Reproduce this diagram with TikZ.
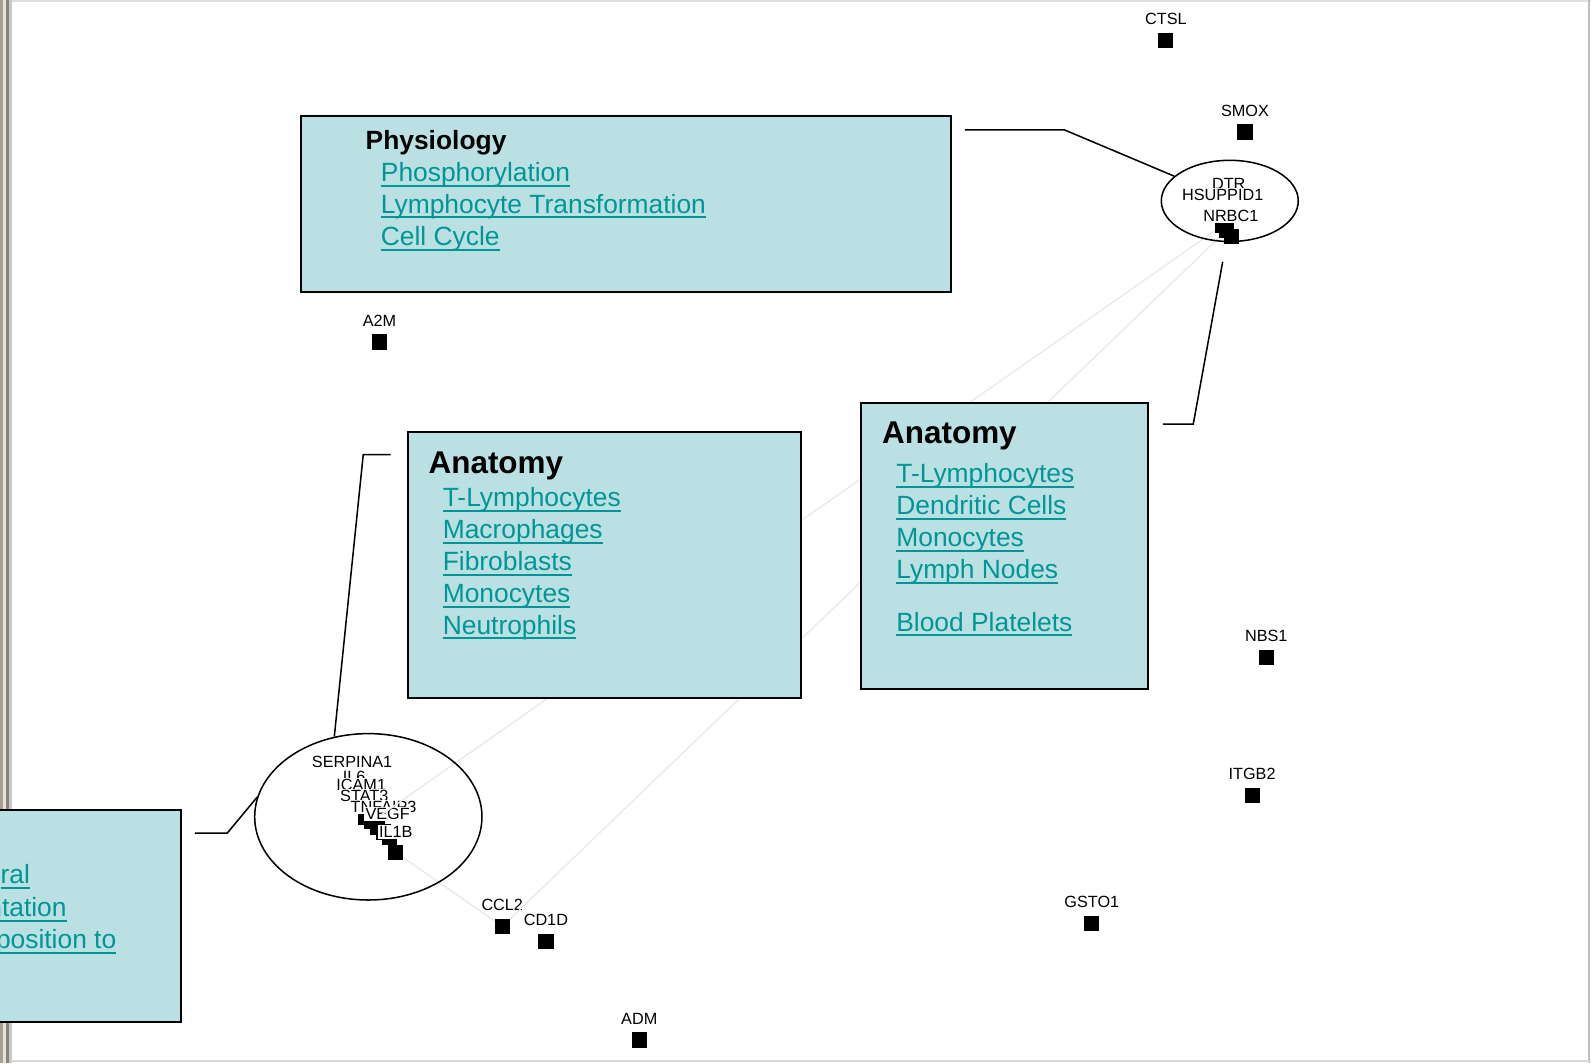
\documentclass[tikz,border=0pt]{standalone}
\usepackage{fontspec}
\setmainfont{Liberation Sans}
\usetikzlibrary{positioning, shapes.geometric}

\definecolor{boxfill}{RGB}{187,224,227}
\definecolor{linkteal}{RGB}{0,150,150}
\definecolor{faintedge}{RGB}{234,234,234}
\definecolor{frameA}{RGB}{165,160,145}
\definecolor{frameB}{RGB}{228,226,218}
\definecolor{frameC}{RGB}{135,132,122}
\definecolor{frameD}{RGB}{200,200,198}

% underlined link text
\newcommand{\linkitem}[1]{\setbox0=\hbox{#1}\rlap{\rule[-0.2em]{\wd0}{0.075em}}\box0}

\tikzset{
  infobox/.style={draw=black, line width=1pt, fill=boxfill, anchor=north west, inner sep=0pt},
  boxhead/.style={anchor=base west, inner sep=0pt, font=\bfseries\fontsize{13}{15}\selectfont},
  anathead/.style={anchor=base west, inner sep=0pt, font=\bfseries\fontsize{15.5}{18}\selectfont},
  boxlink/.style={anchor=base west, inner sep=0pt, text=linkteal, font=\fontsize{13}{15}\selectfont},
  genesq/.style={fill=black, minimum size=7.5pt, inner sep=0pt},
  genelbl/.style={font=\fontsize{8}{9}\selectfont, inner sep=0.6pt, fill=white},
  tie/.style={draw=black, line width=0.75pt},
  faint/.style={draw=faintedge, line width=0.7pt},
  cluster/.style={draw=black, ellipse, line width=0.75pt, inner sep=0pt}
}

\begin{document}
\begin{tikzpicture}[x=0.5pt, y=-0.5pt]

\useasboundingbox (0,0) rectangle (1568,1048);

% Window frame
\fill[frameA] (0,0) rectangle (3,1048);
\fill[frameB] (3,0) rectangle (6,1048);
\fill[frameC] (6,0) rectangle (9,1048);
\fill[frameD] (9,0) rectangle (12,1048);
\draw[gray!25, line width=1pt] (12,1) -- (1568,1);
\draw[gray!50, line width=1pt] (1566,0) -- (1566,1048);
\draw[gray!30, line width=1pt] (12,1046) -- (1568,1046);

% Single genes: square with name above
\foreach \gname/\gx/\gy in {CTSL/1149/40, SMOX/1227/130, A2M/374/337, NBS1/1248/648,
    ITGB2/1234/784, GSTO1/1076/910, CCL2/495/913, CD1D/538/928, ADM/630/1025}{
  \node[genesq] (sq\gname) at (\gx,\gy) {};
  \node[genelbl, above=3pt of sq\gname] (lb\gname) {\gname};
}

% Gene cluster, top right
\node[genesq] (sqTRa) at (1205,222) {};
\node[genesq] (sqTRb) at (1209,227) {};
\node[genesq] (sqTR) at (1214,233) {};
\node[genelbl] (lbDTR) at (1211,181) {DTR};
\node[genelbl] (lbHSUP) at (1205,192) {HSUPPID1};
\node[genelbl] (lbNRBC) at (1213,213) {NRBC1};

% Gene cluster, bottom left
\foreach \i/\cx/\cy in {1/360/806, 2/366/810, 3/372/815, 4/378/820, 5/384/825}{
  \node[genesq] (sqBL\i) at (\cx,\cy) {};
}
\node[genesq] (sqBL) at (390,840) {};
\node[genelbl] (lbSERP) at (347,751) {SERPINA1};
\node[genelbl] (lbIL6) at (349,766) {IL6};
\node[genelbl] (lbICAM) at (356,774) {ICAM1};
\node[genelbl] (lbSTAT) at (359,784) {STAT3};
\node[genelbl] (lbTNF) at (378,795) {TNFAIP3};
\node[genelbl] (lbVEGF) at (382,802) {VEGF};
\node[genelbl] (lbIL1B) at (390,820) {IL1B};

% Faint edges between clusters (behind the boxes)
\draw[faint] (sqTRa) -- (sqBL2);
\draw[faint] (sqTRb) -- (sqCCL2);
\draw[faint] (sqBL) -- (sqCCL2);

% Cluster outlines
\node[cluster, minimum width=67.5pt, minimum height=40pt] (ellTR) at (1212,198) {};
\node[cluster, minimum width=112pt, minimum height=82pt] (ellBL) at (363,805) {};

% Physiology box
\node[infobox, minimum width=320pt, minimum height=87pt] (physbox) at (296,113) {};
\node[boxhead] (physhead) at (360,147) {Physiology};
\node[boxlink] (physA) at (375,179) {\linkitem{Phosphorylation}};
\node[boxlink] (physB) at (375,210) {\linkitem{Lymphocyte Transformation}};
\node[boxlink] (physC) at (375,242) {\linkitem{Cell Cycle}};

% Anatomy box, right
\node[infobox, minimum width=141pt, minimum height=141pt] (anatR) at (848,396) {};
\node[anathead] (anatRhead) at (869,437) {Anatomy};
\node[boxlink] (anatRa) at (883,476) {\linkitem{T-Lymphocytes}};
\node[boxlink] (anatRb) at (883,507) {\linkitem{Dendritic Cells}};
\node[boxlink] (anatRc) at (883,539) {\linkitem{Monocytes}};
\node[boxlink] (anatRd) at (883,570) {\linkitem{Lymph Nodes}};
\node[boxlink] (anatRe) at (883,622) {\linkitem{Blood Platelets}};

% Anatomy box, middle
\node[infobox, minimum width=193.5pt, minimum height=131pt] (anatM) at (401,425) {};
\node[anathead] (anatMhead) at (422,467) {Anatomy};
\node[boxlink] (anatMa) at (436,499) {\linkitem{T-Lymphocytes}};
\node[boxlink] (anatMb) at (436,531) {\linkitem{Macrophages}};
\node[boxlink] (anatMc) at (436,562) {\linkitem{Fibroblasts}};
\node[boxlink] (anatMd) at (436,594) {\linkitem{Monocytes}};
\node[boxlink] (anatMe) at (436,625) {\linkitem{Neutrophils}};

% Box cut off at the left edge
\node[infobox, minimum width=93.5pt, minimum height=104.5pt] (leftbox) at (-10,797) {};
\node[boxlink, anchor=base east] (leftA) at (30,871) {\linkitem{ral}};
\node[boxlink, anchor=base east] (leftB) at (66,903) {\linkitem{ntation}};
\node[boxlink, anchor=base east] (leftC) at (115,935) {\linkitem{position to}};

% Callout lines from boxes to clusters
\coordinate (physend) at (951,128);
\coordinate (physbend) at (1049,128);
\draw[tie] (physend) -- (physbend) -- (ellTR.156);

\coordinate (anatRend) at (1146,418);
\coordinate (anatRbend) at (1176,418);
\coordinate (ellTRend) at (1205,258);
\draw[tie] (anatRend) -- (anatRbend) -- (ellTRend);

\coordinate (anatMend) at (385,448);
\coordinate (anatMbend) at (358,448);
\draw[tie] (anatMend) -- (anatMbend) -- (ellBL.113);

\coordinate (leftend) at (192,821);
\coordinate (leftbend) at (224,821);
\draw[tie] (leftend) -- (leftbend) -- (ellBL.170);

\end{tikzpicture}
\end{document}
